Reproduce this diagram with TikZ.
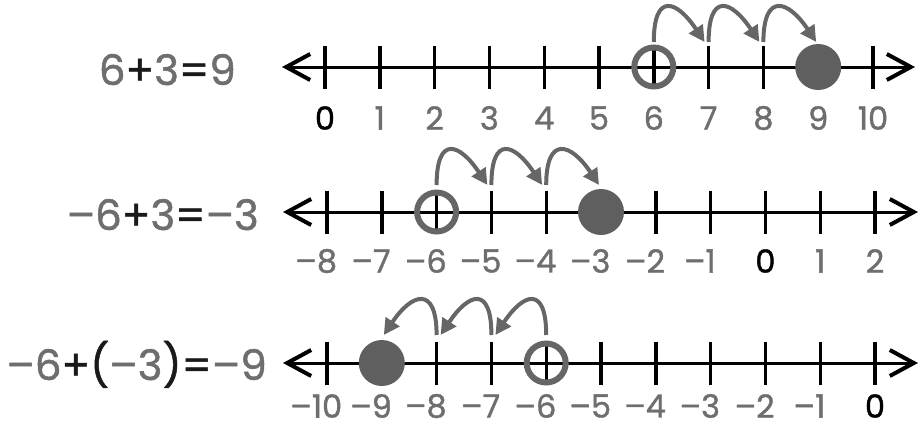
\documentclass[tikz,border=0pt]{standalone}
\usepackage{fontspec}
\setmainfont{Poppins}
\newfontfamily\numfont[FakeBold=1.2]{Poppins}
\usetikzlibrary{arrows.meta}
\definecolor{gtxt}{HTML}{6E6E6E}
\definecolor{gmark}{HTML}{666666}
\definecolor{gdot}{HTML}{5F5F5F}
\definecolor{dark}{HTML}{1A1A1A}
\newcommand{\numlab}[1]{\ifnum#1<0 \llap{–}\number\numexpr0-(#1)\relax\else\ifnum#1=0 \textcolor{black}{0}\else#1\fi\fi}
\begin{document}
\begin{tikzpicture}[x=1pt,y=-1pt,
 axis/.style={line width=3pt, black, {Straight Barb[length=24pt,width=26pt,line width=4pt]}-{Straight Barb[length=24pt,width=26pt,line width=4pt]}},
 tickmark/.style={line width=3.4pt, black},
 opencirc/.style={circle, draw=gmark, line width=6pt, minimum size=39pt, inner sep=0pt},
 fillcirc/.style={circle, fill=gdot, minimum size=46pt, inner sep=0pt},
 jump/.style={draw=gmark, line width=4pt, -{Triangle[length=16pt,width=16pt]}},
 lab/.style={font=\numfont\fontsize{32}{32}\selectfont, text=gtxt, inner sep=0pt},
 eqn/.style={font=\numfont\fontsize{42}{42}\selectfont, text=gtxt, inner sep=0pt, anchor=base east},
]
\useasboundingbox (0,0) rectangle (922,429);
% ---------- row 1 ----------
\coordinate (r1L) at (282,67); \coordinate (r1R) at (915,67);
\draw[axis] (r1L) -- (r1R);
\foreach \i in {0,...,10} {
  \coordinate (r1t\i) at ({325+54.8*\i},67);
  \coordinate (r1j\i) at ({325+54.8*\i},42);
  \draw[tickmark] (r1t\i) ++(0,-21.5) -- ++(0,43);
  \node[lab] (r1l\i) at ({325+54.8*\i},118) {\numlab{\i}};
}
\node[opencirc] (r1s) at (r1t6) {};
\node[fillcirc] (r1e) at (r1t9) {};
\draw[jump] (r1j6) .. controls +(0,-50) and +(-28,-42) .. ([xshift=-4pt]r1j7);
\draw[jump] (r1j7) .. controls +(0,-50) and +(-28,-42) .. ([xshift=-4pt]r1j8);
\draw[jump] (r1j8) .. controls +(0,-50) and +(-28,-42) .. ([xshift=-2pt]r1j9);
\node[eqn] (eq1) at (236,85) {6\textcolor{dark}{+}3\textcolor{dark}{=}9};
% ---------- row 2 ----------
\coordinate (r2L) at (283,212); \coordinate (r2R) at (918,212);
\draw[axis] (r2L) -- (r2R);
\foreach \i in {0,...,10} {
  \pgfmathtruncatemacro\v{\i-8}
  \coordinate (r2t\i) at ({327+54.8*\i},212);
  \coordinate (r2j\i) at ({327+54.8*\i},185);
  \draw[tickmark] (r2t\i) ++(0,-21.5) -- ++(0,43);
  \node[lab] (r2l\i) at ({327+54.8*\i},261) {\numlab{\v}};
}
\node[opencirc] (r2s) at (r2t2) {};
\node[fillcirc] (r2e) at (r2t5) {};
\draw[jump] (r2j2) .. controls +(0,-50) and +(-28,-42) .. ([xshift=-4pt]r2j3);
\draw[jump] (r2j3) .. controls +(0,-50) and +(-28,-42) .. ([xshift=-4pt]r2j4);
\draw[jump] (r2j4) .. controls +(0,-50) and +(-28,-42) .. ([xshift=-2pt]r2j5);
\node[eqn] (eq2) at (259,230) {–6\textcolor{dark}{+}3\textcolor{dark}{=}–3};
% ---------- row 3 ----------
\coordinate (r3L) at (283,363); \coordinate (r3R) at (918,363);
\draw[axis] (r3L) -- (r3R);
\foreach \i in {0,...,10} {
  \pgfmathtruncatemacro\v{\i-10}
  \coordinate (r3t\i) at ({327+54.8*\i},363);
  \coordinate (r3j\i) at ({327+54.8*\i},335);
  \draw[tickmark] (r3t\i) ++(0,-21.5) -- ++(0,43);
  \node[lab] (r3l\i) at ({327+54.8*\i},406) {\numlab{\v}};
}
\node[opencirc] (r3s) at (r3t4) {};
\node[fillcirc] (r3e) at (r3t1) {};
\draw[jump] (r3j4) .. controls +(0,-50) and +(28,-42) .. ([xshift=4pt]r3j3);
\draw[jump] (r3j3) .. controls +(0,-50) and +(28,-42) .. ([xshift=4pt]r3j2);
\draw[jump] (r3j2) .. controls +(0,-50) and +(28,-42) .. ([xshift=2pt]r3j1);
\node[eqn] (eq3) at (267,380) {–6\textcolor{dark}{+(}–3\textcolor{dark}{)=}–9};
\end{tikzpicture}
\end{document}
